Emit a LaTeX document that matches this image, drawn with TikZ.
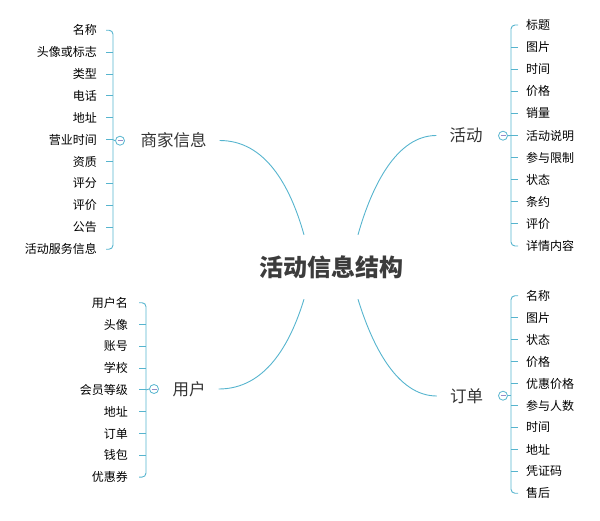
\documentclass[tikz,border=0pt]{standalone}
\usepackage{fontspec}
\setmainfont{Noto Sans CJK SC}
\definecolor{linec}{RGB}{86,180,206}
\definecolor{minusc}{RGB}{150,140,200}
\definecolor{titlec}{RGB}{60,60,60}
\definecolor{branchc}{RGB}{51,51,51}
\begin{document}
\begin{tikzpicture}[x=1pt,y=-1pt,
  line/.style={draw=linec, line width=0.9pt},
  leaf/.style={font=\fontsize{12}{14}\selectfont, text=black, inner sep=0pt},
  branch/.style={font=\fontsize{16.5}{20}\selectfont, text=branchc, inner xsep=13pt, inner ysep=2pt},
  toggle/.style={circle, draw=linec, line width=0.8pt, minimum size=9pt, inner sep=0pt,
    path picture={\draw[minusc, line width=0.7pt] ([xshift=-2.5pt]path picture bounding box.center) -- ([xshift=2.5pt]path picture bounding box.center);}},
]
\useasboundingbox (0,0) rectangle (600,520);

% central topic
\node[font=\fontsize{24}{28}\selectfont\bfseries, text=titlec, minimum height=64pt, inner sep=0pt] (title) at (331,267) {活动信息结构};

% main branches
\node[branch] (shop) at (173.5,140.5) {商家信息};
\node[branch] (act) at (466,135.5) {活动};
\node[branch] (user) at (189,389) {用户};
\node[branch] (order) at (466.5,396) {订单};

\draw[line] ([xshift=-27pt]title.north) .. controls (290,185) and (265,140.5) .. (shop.east);
\draw[line] ([xshift=27pt]title.north) .. controls (372,185) and (397,135.5) .. (act.west);
\draw[line] ([xshift=-27pt]title.south) .. controls (290,345) and (265,389) .. (user.east);
\draw[line] ([xshift=27pt]title.south) .. controls (372,345) and (397,396) .. (order.west);

% toggles
\node[toggle] (shopT) at (120,140.7) {};
\node[toggle] (actT) at (503,135.7) {};
\node[toggle] (userT) at (154,389) {};
\node[toggle] (orderT) at (503,395.7) {};

% bracket x positions
\coordinate (shopB) at (113,0);
\coordinate (actB) at (511,0);
\coordinate (userB) at (146,0);
\coordinate (orderB) at (511,0);

% 商家信息 leaves
\foreach \t [count=\i] in {名称,头像或标志,类型,电话,地址,营业时间,资质,评分,评价,公告,活动服务信息}
  \node[leaf, anchor=east] (s\i) at (97,{30.2+21.9*(\i-1)}) {\t};
\draw[line, rounded corners=4pt] ([xshift=9pt]s1.east) -- (s1.east -| shopB) -- (s11.east -| shopB) -- ([xshift=9pt]s11.east);
\foreach \i in {2,...,10}
  \draw[line] ([xshift=9pt]s\i.east) -- (s\i.east -| shopB);
\draw[line] (s6.east -| shopB) -- (shopT.west);

% 活动 leaves
\foreach \t [count=\i] in {标题,图片,时间,价格,销量,活动说明,参与限制,状态,条约,评价,详情内容}
  \node[leaf, anchor=west] (a\i) at (526,{25+22.1*(\i-1)}) {\t};
\draw[line, rounded corners=4pt] ([xshift=-8pt]a1.west) -- (a1.west -| actB) -- (a11.west -| actB) -- ([xshift=-8pt]a11.west);
\foreach \i in {2,...,10}
  \draw[line] ([xshift=-8pt]a\i.west) -- (a\i.west -| actB);
\draw[line] (a6.west -| actB) -- (actT.east);

% 用户 leaves
\foreach \t [count=\i] in {用户名,头像,账号,学校,会员等级,地址,订单,钱包,优惠券}
  \node[leaf, anchor=east] (u\i) at (128,{302.7+21.8*(\i-1)}) {\t};
\draw[line, rounded corners=4pt] ([xshift=11pt]u1.east) -- (u1.east -| userB) -- (u9.east -| userB) -- ([xshift=11pt]u9.east);
\foreach \i in {2,...,8}
  \draw[line] ([xshift=11pt]u\i.east) -- (u\i.east -| userB);
\draw[line] (u5.east -| userB) -- (userT.west);

% 订单 leaves
\foreach \t [count=\i] in {名称,图片,状态,价格,优惠价格,参与人数,时间,地址,凭证码,售后}
  \node[leaf, anchor=west] (o\i) at (526,{295.7+21.95*(\i-1)}) {\t};
\draw[line, rounded corners=4pt] ([xshift=-8pt]o1.west) -- (o1.west -| orderB) -- (o10.west -| orderB) -- ([xshift=-8pt]o10.west);
\foreach \i in {2,...,9}
  \draw[line] ([xshift=-8pt]o\i.west) -- (o\i.west -| orderB);
\draw[line] (orderT.east) -- (orderT.east -| orderB);
\end{tikzpicture}
\end{document}
